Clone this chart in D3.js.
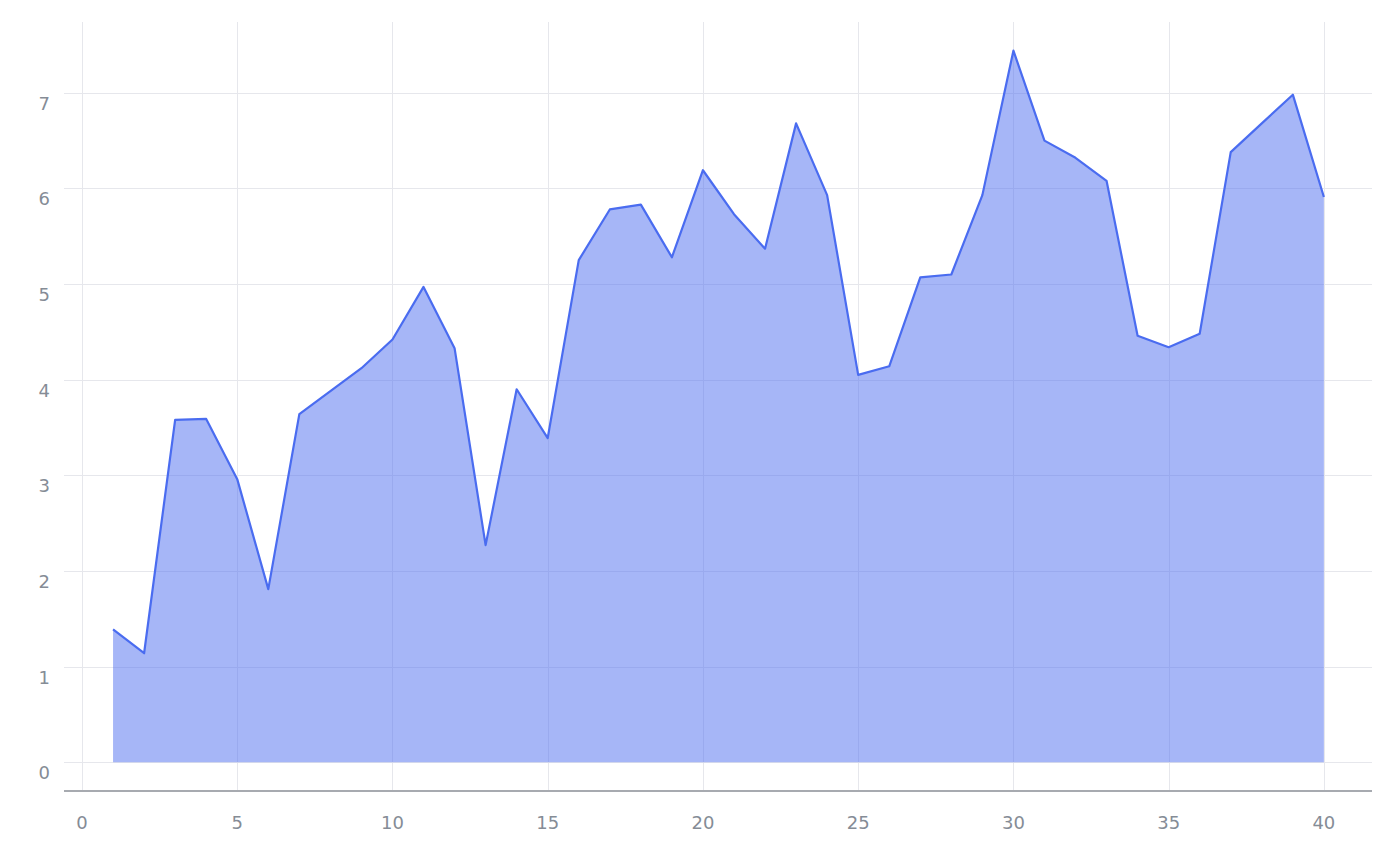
<!DOCTYPE html>
<html><head><meta charset="utf-8">
<script src="https://cdn.jsdelivr.net/npm/d3@7"></script>
<style>html,body{margin:0;padding:0;background:#fff;}svg{display:block;font-family:"DejaVu Sans",sans-serif;}</style>
</head><body>
<svg id="c" width="1400" height="866"></svg>
<script>
const xs = d3.range(1, 41);
const values = [1.39,1.14,3.58,3.59,2.96,1.81,3.64,3.88,4.12,4.42,4.97,4.33,2.27,3.90,3.39,5.25,5.78,5.83,5.28,6.19,5.73,5.37,6.68,5.93,4.05,4.14,5.07,5.10,5.93,7.44,6.50,6.32,6.08,4.46,4.34,4.48,6.38,6.68,6.98,5.91];
const xTicks = [0,5,10,15,20,25,30,35,40];
const yTicks = [0,1,2,3,4,5,6,7];
const data = xs.map((x,i)=>({x, y: values[i]}));

(function(){
const svg = d3.select("#c");
const mL = 64, mR = 1372, mT = 22, mB = 790;
const x = d3.scaleLinear().domain([-0.58, 41.55]).range([mL, mR]);
const y = d3.scaleLinear().domain([-0.29, 7.74]).range([mB, mT]);

const grid = "#e6e7ec", txt = "#858c96";
svg.append("g").selectAll("line").data(xTicks).join("line")
  .attr("x1", d=>Math.round(x(d))+0.5).attr("x2", d=>Math.round(x(d))+0.5).attr("y1", mT).attr("y2", mB)
  .attr("stroke", grid).attr("stroke-width", 1);
svg.append("g").selectAll("line").data(yTicks).join("line")
  .attr("x1", mL).attr("x2", mR).attr("y1", d=>Math.round(y(d))+0.5).attr("y2", d=>Math.round(y(d))+0.5)
  .attr("stroke", grid).attr("stroke-width", 1);

svg.append("path").datum(data)
  .attr("d", d3.area().x(d=>x(d.x)).y0(y(0)).y1(d=>y(d.y)))
  .attr("fill", "#4d6ef0").attr("fill-opacity", 0.5);
svg.append("path").datum(data)
  .attr("d", d3.line().x(d=>x(d.x)).y(d=>y(d.y)))
  .attr("fill", "none").attr("stroke", "#4a6cf0").attr("stroke-width", 2.2).attr("stroke-linejoin","round");

svg.append("line").attr("x1", mL).attr("x2", mR).attr("y1", mB+1).attr("y2", mB+1)
  .attr("stroke", "#8a8e96").attr("stroke-width", 1.3);

svg.append("g").selectAll("text").data(xTicks).join("text")
  .attr("x", d=>x(d)).attr("y", 829).attr("text-anchor","middle")
  .attr("font-size", 18).attr("fill", txt).text(d=>d);
svg.append("g").selectAll("text").data(yTicks).join("text")
  .attr("x", 50).attr("y", d=>y(d)+17).attr("text-anchor","end")
  .attr("font-size", 18).attr("fill", txt).text(d=>d);
})();
</script>
</body></html>
